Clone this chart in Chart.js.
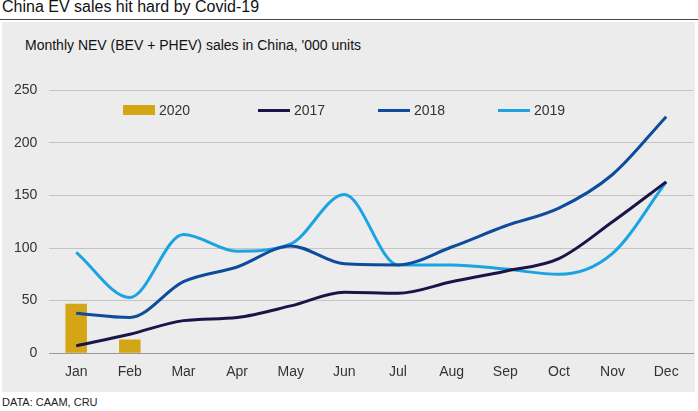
<!DOCTYPE html>
<html><head><meta charset="utf-8">
<script src="https://cdn.jsdelivr.net/npm/chart.js@4"></script>
<style>
body{margin:0;width:698px;height:411px;background:#fff;font-family:"Liberation Sans",Arial,sans-serif;position:relative;overflow:hidden}
#title{position:absolute;left:2px;top:-2px;font-size:16px;color:#111}
#rule{position:absolute;left:0;top:19px;width:698px;height:1px;background:#444}
#box{position:absolute;left:2px;top:22px;width:693px;height:370px;background:#ececec}
#sub{position:absolute;left:25px;top:37px;font-size:14px;color:#111}
#wrap{position:absolute;left:2px;top:70px;width:693px;height:314px}
#legend{position:absolute;top:102px;left:0;font-size:14px;color:#333}
.it{position:absolute;display:flex;align-items:center;white-space:nowrap}
.sw{display:inline-block;margin-right:4px}
#foot{position:absolute;left:2px;top:396px;font-size:11px;color:#222}
</style></head><body>
<div id="title">China EV sales hit hard by Covid-19</div>
<div id="rule"></div>
<div id="box"></div>
<div id="sub">Monthly NEV (BEV + PHEV) sales in China, '000 units</div>
<div id="wrap"><canvas id="c"></canvas></div>
<div id="legend"></div>
<div id="foot">DATA: CAAM, CRU</div>
<script>
const months = ["Jan","Feb","Mar","Apr","May","Jun","Jul","Aug","Sep","Oct","Nov","Dec"];
const sales2020 = [47, 13, null, null, null, null, null, null, null, null, null, null];
const sales2017 = [7, 18, 31, 34, 45, 58, 57, 68, 78, 90, 125, 163];
const sales2018 = [38, 34, 68, 82, 102, 85, 84, 101, 121, 138, 170, 225];
const sales2019 = [96, 53, 113, 97, 104, 151, 84, 84, 80, 75, 95, 163];

const legendItems = [
  { label: "2020", color: "#d4a514", bar: true, x: 123 },
  { label: "2017", color: "#1b1449", x: 258 },
  { label: "2018", color: "#0d4c9c", x: 378 },
  { label: "2019", color: "#1ba3e2", x: 498 },
];
const lg = document.getElementById("legend");
legendItems.forEach((it) => {
  const d = document.createElement("div");
  d.className = "it";
  d.style.left = it.x + "px";
  d.innerHTML = `<span class="sw" style="width:32px;height:${it.bar ? 10 : 3}px;background:${it.color}"></span>${it.label}`;
  lg.appendChild(d);
});

const line = (label, data, color) => ({
  type: "line", label, data, borderColor: color, backgroundColor: color,
  borderWidth: 3, pointRadius: 0, tension: 0.4, cubicInterpolationMode: "monotone", order: 1,
});

new Chart(document.getElementById("c"), {
  data: {
    labels: months,
    datasets: [
      { type: "bar", label: "2020", data: sales2020, backgroundColor: "#d4a514",
        barPercentage: 0.4, categoryPercentage: 1, order: 2 },
      line("2017", sales2017, "#1b1449"),
      line("2018", sales2018, "#0d4c9c"),
      line("2019", sales2019, "#1ba3e2"),
    ],
  },
  options: {
    responsive: true, maintainAspectRatio: false, animation: false,
    layout: { padding: { left: 0, right: 2, top: 12, bottom: 0 } },
    plugins: { legend: { display: false }, tooltip: { enabled: false } },
    scales: {
      x: {
        grid: { display: false },
        border: { color: "#999" },
        ticks: { color: "#333", font: { size: 14, family: "Liberation Sans" } },
      },
      y: {
        min: 0, max: 250,
        ticks: { stepSize: 50, color: "#333", padding: 12, font: { size: 14, family: "Liberation Sans" } },
        grid: { color: "#c4c4c4", drawTicks: false },
        border: { display: false },
      },
    },
  },
});
</script>
</body></html>
